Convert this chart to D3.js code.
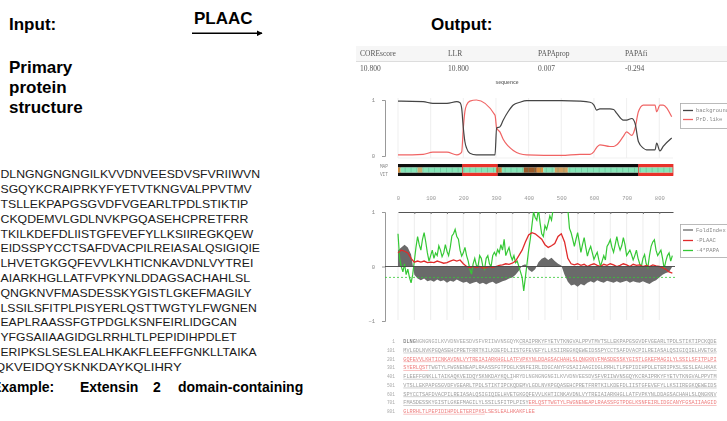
<!DOCTYPE html>
<html>
<head>
<meta charset="utf-8">
<script src="https://cdn.jsdelivr.net/npm/d3@7"></script>
<style>
  body { margin: 0; background: #fff; }
  svg { display: block; }
</style>
</head>
<body>
<script>
var width = 727,
    height = 421;

// ---- left side: input sequence (visible part of the page)
var seqLines = [
  "DLNGNGNGNGILKVVDNVEESDVSFVRIIWVN",
  "SGQYKCRAIPRKYFYETVTKNGVALPPVTMV",
  "TSLLEKPAPGSGVDFVGEARLTPDLSTIKTIP",
  "CKQDEMVLGDLNVKPGQASEHCPRETFRR",
  "TKILKDEFDLIISTGFEVEFYLLKSIIREGKQEW",
  "EIDSSPYCCTSAFDVACPILREIASALQSIGIQIE",
  "LHVETGKGQFEVVLKHTICNKAVDNLVYTREI",
  "AIARKHGLLATFVPKYNLDDAGSACHAHLSL",
  "QNGKNVFMASDESSKYGISTLGKEFMAGILY",
  "LSSILSFITPLPISYERLQSTTWGTYLFWGNEN",
  "EAPLRAASSFGTPDGLKSNFEIRLIDGCAN",
  "YFGSAIIAAGIDGLRRHLTLPEPIDIHPDLET",
  "ERIPKSLSESLEALHKAKFLEEFFGNKLLTAIKA",
  "QKVEIDQYSKNKDAYKQLIHRY"
];
// where each printed line ends on the page (px)
var seqLineEnd = [260, 251.7, 248.3, 248.3, 253.3, 260, 253.3, 250, 251.7, 256.7, 236.7, 236.7, 256.7, 181.7];
var exampleWords = ["Example:", "Extensin", "2", "domain-containing"];

// ---- PLAAC output: summary table
var headers = ["COREscore", "LLR", "PAPAprop", "PAPAfi"];
var headerVals = ["10.800", "10.800", "0.007", "-0.294"];

// ---- HMM state probabilities (top chart)
var hmmPos = [0, 10, 77, 107, 150, 180, 190, 195, 200, 205, 210, 220, 240, 297, 302, 312, 322, 337, 353, 373, 394,
              500, 557, 588, 600, 608, 618, 649, 660, 670, 690, 700, 716, 726, 736, 751, 761, 787, 792, 802, 812, 838];
var bgProb = [0.98, 0.98, 0.97, 0.94, 0.94, 0.97, 0.95, 0.85, 0.5, 0.25, 0.14, 0.05, 0.02, 0.02, 0.5, 0.52, 0.64, 0.79, 0.91, 0.96, 0.99,
              0.99, 0.98, 0.96, 0.91, 0.82, 0.84, 0.84, 0.83, 0.76, 0.64, 0.64, 0.67, 0.58, 0.26, 0.14, 0.11, 0.11, 0.23, 0.09, 0.17, 0.32];
var prdProb = [0.02, 0.02, 0.03, 0.07, 0.07, 0.02, 0.04, 0.07, 0.5, 0.8, 0.91, 0.98, 1.0, 0.73, 0.5, 0.43, 0.3, 0.18, 0.1, 0.04, 0.02,
               0.01, 0.03, 0.03, 0.08, 0.15, 0.2, 0.17, 0.17, 0.2, 0.35, 0.43, 0.37, 0.5, 0.79, 0.91, 0.91, 0.91, 0.79, 0.91, 0.91, 0.7];

// MAP / Viterbi parse: [start, end, state]
var parseSegs = [[0, 198, "bg"], [198, 304, "prd"], [304, 737, "bg"], [737, 842, "prd"]];
// residue colour strip: [start, end, colour]
var stripSegs = [[0, 8, "#d88a3a"], [8, 60, "#86e6b8"], [60, 75, "#c8b070"], [75, 300, "#86e6b8"],
                 [300, 318, "#c9803a"], [318, 385, "#86e6b8"], [385, 425, "#9a5a2a"], [425, 445, "#d9903e"],
                 [445, 480, "#86e6b8"], [480, 520, "#d0a060"], [520, 842, "#86e6b8"]];

// ---- bottom chart: FoldIndex, -PLAAC, -4*PAPA
var step10 = d3.range(0, 841, 10);
var foldIdx = [0.3, 0.35, 0.4, 0.35, 0.22, -0.15, -0.22, -0.25, -0.22, -0.27,
               -0.25, -0.28, -0.24, -0.27, -0.25, -0.3, -0.26, -0.28, -0.24, -0.27,
               -0.3, -0.28, -0.32, -0.3, -0.28, -0.32, -0.3, -0.33, -0.3, -0.28,
               -0.32, -0.3, -0.27, -0.25, -0.22, -0.2, -0.15, -0.08, 0.02, 0.04,
               -0.06, -0.1, -0.05, 0.08, 0.14, 0.17, 0.12, 0.16, 0.1, 0.05,
               0.02, -0.15, -0.28, -0.35, -0.33, -0.37, -0.32, -0.35, -0.3, -0.27,
               -0.3, -0.25, -0.28, -0.3, -0.26, -0.28, -0.3, -0.27, -0.3, -0.28,
               -0.26, -0.3, -0.27, -0.29, -0.3, -0.27, -0.3, -0.32, -0.28, -0.25,
               -0.2, -0.15, -0.12, -0.1, 0];
var plaac = [0.25, 0.3, 0.28, 0.25, 0.15, 0.08, 0.1, 0.08, 0.1, 0.07,
             0.08, 0.07, 0.1, 0.08, 0.06, 0.07, 0.1, 0.12, 0.1, 0.12,
             0.05, 0.0, -0.02, 0.0, -0.02, 0.0, -0.03, -0.02, 0.0, -0.02,
             0.0, 0.02, 0.03, 0.05, 0.04, 0.06, 0.1, 0.2, 0.3, 0.45,
             0.58, 0.62, 0.6, 0.55, 0.5, 0.4, 0.35, 0.38, 0.42, 0.55,
             0.6, 0.45, 0.15, 0.05, 0.03, 0.05, 0.02, 0.04, 0.0, 0.03,
             0.05, 0.02, 0.0, 0.04, 0.02, 0.05, 0.03, 0.0, 0.02, 0.05,
             0.03, 0.0, 0.04, 0.02, 0.03, 0.0, 0.02, 0.0, 0.03, 0.01,
             0.0, -0.02, -0.05, -0.1, -0.12];
var step5 = d3.range(0, 841, 5);
var papa = [0.6, 0.15, 0.0, -0.1, 0.05, -0.15, -0.05, -0.2, -0.3, -0.15,
            0.1, 0.35, 0.55, 0.4, 0.3, 0.5, 0.62, 0.45, 0.25, 0.1,
            0.2, 0.3, 0.15, 0.25, 0.2, 0.38, 0.3, 0.18, 0.25, 0.4,
            0.28, 0.2, 0.35, 0.56, 0.6, 0.68, 0.55, 0.5, 0.3, 0.19,
            0.25, 0.35, 0.2, 0.1, -0.05, -0.14, 0.05, 0.15, 0.02, 0.0,
            0.2, 0.15, 0.0, -0.05, 0.15, 0.2, 0.05, 0.0, 0.2, 0.26,
            0.2, 0.31, 0.25, 0.4, 0.3, 0.5, 0.2, 0.28, 0.35, 0.2,
            0.12, 0.2, 0.07, 0.1, 0.0, -0.1, -0.2, -0.45, -0.2, 0.05,
            0.3, 0.5, 0.75, 1.0, 0.9, 0.85, 1.05, 0.8, 0.6, 0.55,
            0.75, 0.68, 0.8, 0.93, 0.85, 1.05, 1.2, 1.3, 1.4, 1.3,
            1.5, 1.4, 1.3, 1.2, 1.05, 0.7, 0.62, 0.5, 0.37, 0.5,
            0.62, 0.45, 0.26, 0.4, 0.53, 0.35, 0.19, 0.3, 0.37, 0.25,
            0.13, 0.2, 0.26, 0.12, 0.0, 0.1, 0.2, 0.12, 0.37, 0.42,
            0.49, 0.35, 0.26, 0.4, 0.55, 0.4, 0.3, 0.38, 0.53, 0.4,
            0.2, 0.25, 0.3, 0.22, 0.12, 0.2, 0.3, 0.15, 0.05, 0.0,
            0.15, 0.22, 0.05, -0.02, 0.2, 0.37, 0.45, 0.49, 0.3, 0.2,
            0.25, 0.3, 0.15, -0.04, 0.1, 0.2, 0.25, 0.1, 0.2];

// sequence listing styles: [first, last, colour, underlined]
var seqStyle = [[1, 4, "#666", false], [5, 37, "#aaa", false], [38, 200, "#a0a0a0", true],
                [201, 308, "#ee8080", true], [309, 435, "#a0a0a0", true], [436, 460, "#a8a8a8", false],
                [461, 740, "#a0a0a0", true], [741, 826, "#ee8080", true], [827, 842, "#ee8080", false]];
var seqRowLabels = ["1", "101", "201", "301", "401", "501", "601", "701", "801"];
var protLen = 842;

var svg = d3.select("body").append("svg")
    .attr("width", width)
    .attr("height", height);

var defs = svg.append("defs");
defs.append("filter").attr("id", "soft")
    .append("feGaussianBlur").attr("stdDeviation", 0.3);
defs.append("clipPath").attr("id", "botclip")
  .append("rect").attr("x", 385).attr("y", 212).attr("width", 292).attr("height", 110);
defs.append("marker").attr("id", "arrow")
    .attr("viewBox", "0 0 10 10").attr("refX", 9).attr("refY", 5)
    .attr("markerWidth", 4).attr("markerHeight", 4).attr("orient", "auto")
  .append("path").attr("d", "M0,0L10,5L0,10z").attr("fill", "#000");

var sans = "Liberation Sans, Arial, sans-serif";
var mono = "Liberation Mono, DejaVu Sans Mono, monospace";

// ---------- left side
svg.append("text").attr("x", 9).attr("y", 30).text("Input:")
    .style("font", "bold 17px " + sans);
svg.append("text").attr("x", 194).attr("y", 24).text("PLAAC")
    .style("font", "bold 17px " + sans);
svg.append("line").attr("x1", 192).attr("x2", 262).attr("y1", 33.3).attr("y2", 33.3)
    .attr("stroke", "#000").attr("stroke-width", 1.5).attr("marker-end", "url(#arrow)");
svg.append("text").attr("x", 431).attr("y", 30).text("Output:")
    .style("font", "bold 17px " + sans);

["Primary", "protein", "structure"].forEach(function(t, i) {
  svg.append("text").attr("x", 9).attr("y", 72.7 + i * 20.3).text(t)
      .style("font", "bold 17px " + sans);
});

svg.append("g").selectAll("text").data(seqLines).enter().append("text")
    .attr("x", function(d, i) { return i === seqLines.length - 1 ? -4.9 : 0.5; })
    .attr("y", function(d, i) { return 178.3 + i * 14.8; })
    .attr("textLength", function(d, i) { return seqLineEnd[i] - (i === seqLines.length - 1 ? -4.9 : 0.5); })
    .attr("lengthAdjust", "spacingAndGlyphs")
    .text(function(d) { return d; })
    .style("font", "11.5px " + sans)
    .attr("fill", "#1a1a1a");

var exX = [-8, 80, 153, 178];
svg.append("g").selectAll("text").data(exampleWords).enter().append("text")
    .attr("x", function(d, i) { return exX[i]; })
    .attr("y", 392)
    .text(function(d) { return d; })
    .style("font", "bold 14px " + sans);

// ---------- output panel
var panel = svg.append("g").attr("filter", "url(#soft)");

var hx = [360, 448, 538, 625];
panel.append("rect").attr("x", 356).attr("y", 46).attr("width", 371).attr("height", 15).attr("fill", "#f6f6f6");
panel.append("line").attr("x1", 356).attr("x2", 727).attr("y1", 61.5).attr("y2", 61.5).attr("stroke", "#ddd");
panel.selectAll(".hdr").data(headers).enter().append("text")
    .attr("x", function(d, i) { return hx[i]; }).attr("y", 55.5)
    .text(function(d) { return d; })
    .style("font", "7.5px Liberation Serif, serif").attr("fill", "#555");
panel.selectAll(".hval").data(headerVals).enter().append("text")
    .attr("x", function(d, i) { return hx[i]; }).attr("y", 71)
    .text(function(d) { return d; })
    .style("font", "7.5px Liberation Serif, serif").attr("fill", "#555");
panel.append("text").attr("x", 507).attr("y", 84).attr("text-anchor", "middle")
    .text("sequence").style("font", "bold 5px " + sans).attr("fill", "#777");

var x = d3.scaleLinear().domain([0, protLen]).range([398, 673]);
var yTop = d3.scaleLinear().domain([0, 1]).range([156, 100]);
var yBot = d3.scaleLinear().domain([-1, 1]).range([321, 212]);

// top chart grid
panel.append("g").selectAll("line").data(d3.range(0, 801, 100)).enter().append("line")
    .attr("x1", x).attr("x2", x).attr("y1", 98).attr("y2", 158)
    .attr("stroke", "#ebebeb").attr("stroke-width", 0.8);
panel.append("line").attr("x1", 398).attr("x2", 673).attr("y1", 158).attr("y2", 158)
    .attr("stroke", "#eee").attr("stroke-width", 0.8);

var yAxTop = panel.append("g").attr("transform", "translate(385,0)")
    .call(d3.axisLeft(yTop).tickValues([0, 1]).tickSize(3).tickPadding(7).tickFormat(d3.format("d")));
yAxTop.selectAll("path,line").attr("stroke", "#999");
yAxTop.selectAll("text").style("font", "5.5px " + mono).attr("fill", "#888");

var hmmData = hmmPos.map(function(p, i) { return {p: p, bg: bgProb[i], prd: prdProb[i]}; });
panel.append("path").datum(hmmData)
    .attr("d", d3.line().curve(d3.curveMonotoneX).x(function(d) { return x(d.p); }).y(function(d) { return yTop(d.prd); }))
    .attr("fill", "none").attr("stroke", "#f06464").attr("stroke-width", 1.2);
panel.append("path").datum(hmmData)
    .attr("d", d3.line().curve(d3.curveMonotoneX).x(function(d) { return x(d.p); }).y(function(d) { return yTop(d.bg); }))
    .attr("fill", "none").attr("stroke", "#444").attr("stroke-width", 1.2);

// legend (top)
panel.append("rect").attr("x", 680.5).attr("y", 103.5).attr("width", 60).attr("height", 25)
    .attr("fill", "#fff").attr("stroke", "#aaa").attr("stroke-width", 0.8);
[["background", "#444", 110.5], ["PrD.like", "#f06464", 119.5]].forEach(function(e) {
  panel.append("line").attr("x1", 683).attr("x2", 693).attr("y1", e[2]).attr("y2", e[2])
      .attr("stroke", e[1]).attr("stroke-width", 1.3);
  panel.append("text").attr("x", 696).attr("y", e[2] + 1.8).text(e[0])
      .style("font", "5.5px " + mono).attr("fill", "#888");
});

// parse rows + residue strip
var stateCol = {bg: "#111", prd: "#e8302c"};
panel.append("text").attr("x", 388).attr("y", 167.5).attr("text-anchor", "end").text("MAP")
    .style("font", "4.5px " + mono).attr("fill", "#888");
panel.append("text").attr("x", 388).attr("y", 175.5).attr("text-anchor", "end").text("VIT")
    .style("font", "4.5px " + mono).attr("fill", "#888");
[164, 172.5].forEach(function(y0) {
  panel.append("g").selectAll("rect").data(parseSegs).enter().append("rect")
      .attr("x", function(d) { return x(d[0]); })
      .attr("width", function(d) { return x(d[1]) - x(d[0]); })
      .attr("y", y0).attr("height", 3.5)
      .attr("fill", function(d) { return stateCol[d[2]]; });
});
panel.append("g").selectAll("rect").data(stripSegs).enter().append("rect")
    .attr("x", function(d) { return x(d[0]); })
    .attr("width", function(d) { return x(d[1]) - x(d[0]); })
    .attr("y", 167.5).attr("height", 5)
    .attr("fill", function(d) { return d[2]; });
panel.append("g").selectAll("line").data(d3.range(4, protLen, 18)).enter().append("line")
    .attr("x1", x).attr("x2", x).attr("y1", 167.5).attr("y2", 172.5)
    .attr("stroke", "#4f9a7c").attr("stroke-width", 0.6).attr("opacity", 0.6);
parseSegs.filter(function(d) { return d[2] === "prd"; }).forEach(function(d) {
  panel.append("rect").attr("x", x(d[0])).attr("width", x(d[1]) - x(d[0]))
      .attr("y", 164.5).attr("height", 11).attr("fill", "none")
      .attr("stroke", "#e8302c").attr("stroke-width", 0.8);
});

// bottom chart: position axis on top
var posLab = panel.append("g").attr("transform", "translate(0,212)")
    .call(d3.axisTop(x).tickValues(d3.range(0, 801, 100)).tickSize(0).tickPadding(12));
posLab.select(".domain").remove();
posLab.selectAll("text").style("font", "5.5px " + mono).attr("fill", "#999");

panel.append("g").selectAll("line").data(d3.range(0, 801, 50)).enter().append("line")
    .attr("x1", x).attr("x2", x).attr("y1", 213).attr("y2", 320)
    .attr("stroke", "#e9e9e9").attr("stroke-width", 0.8);

var posAx = panel.append("g").attr("transform", "translate(0,212)")
    .call(d3.axisBottom(x).tickValues(d3.range(50, 801, 50)).tickSize(2).tickSizeOuter(0).tickFormat(""));
posAx.select(".domain").attr("stroke", "#555");
posAx.selectAll("line").attr("stroke", "#777");

var yAxBot = panel.append("g").attr("transform", "translate(385,0)")
    .call(d3.axisLeft(yBot).tickValues([-1, 0, 1]).tickSize(3).tickPadding(7).tickFormat(d3.format("d")));
yAxBot.selectAll("path,line").attr("stroke", "#999");
yAxBot.selectAll("text").style("font", "5.5px " + mono).attr("fill", "#888");

var plot = panel.append("g").attr("clip-path", "url(#botclip)");

var foldData = step10.map(function(p, i) { return {p: p, v: foldIdx[i]}; });
plot.append("path").datum(foldData)
    .attr("d", d3.area().x(function(d) { return x(d.p); }).y0(yBot(0)).y1(function(d) { return yBot(d.v); }))
    .attr("fill", "#6a6a6a");

var papaData = step5.map(function(p, i) { return {p: p, v: papa[i]}; });
plot.append("path").datum(papaData)
    .attr("d", d3.line().x(function(d) { return x(d.p); }).y(function(d) { return yBot(d.v); }))
    .attr("fill", "none").attr("stroke", "#35c835").attr("stroke-width", 1.2);

var plaacData = step10.map(function(p, i) { return {p: p, v: plaac[i]}; });
plot.append("path").datum(plaacData)
    .attr("d", d3.line().x(function(d) { return x(d.p); }).y(function(d) { return yBot(d.v); }))
    .attr("fill", "none").attr("stroke", "#e02a2a").attr("stroke-width", 1.3);

panel.append("line").attr("x1", 385).attr("x2", 675).attr("y1", yBot(0)).attr("y2", yBot(0))
    .attr("stroke", "#444").attr("stroke-width", 0.9);
panel.append("line").attr("x1", 385).attr("x2", 675).attr("y1", yBot(-0.2)).attr("y2", yBot(-0.2))
    .attr("stroke", "#35c835").attr("stroke-width", 0.8).attr("stroke-dasharray", "2,2");

// legend (bottom)
panel.append("rect").attr("x", 680.5).attr("y", 224.5).attr("width", 60).attr("height", 33)
    .attr("fill", "#fff").attr("stroke", "#aaa").attr("stroke-width", 0.8);
[["FoldIndex", "#6a6a6a", 230], ["-PLAAC", "#e02a2a", 240.5], ["-4*PAPA", "#35c835", 250.5]].forEach(function(e) {
  panel.append("line").attr("x1", 683).attr("x2", 693).attr("y1", e[2]).attr("y2", e[2])
      .attr("stroke", e[1]).attr("stroke-width", 1.3);
  panel.append("text").attr("x", 696).attr("y", e[2] + 1.8).text(e[0])
      .style("font", "5.5px " + mono).attr("fill", "#888");
});

// sequence listing
var fullSeq = seqLines.join("");
while (fullSeq.length < protLen) fullSeq += seqLines.join("");
fullSeq = fullSeq.slice(0, protLen);
var cw = 3.133, seqX0 = 403.3;
var listing = panel.append("g");
seqRowLabels.forEach(function(lab, r) {
  var yb = 343.2 + r * 8.75;
  listing.append("text").attr("x", 395).attr("y", yb).attr("text-anchor", "end").text(lab)
      .style("font", "4.5px " + mono).attr("fill", "#aaa");
  seqStyle.forEach(function(s) {
    var a = Math.max(s[0], r * 100 + 1), b = Math.min(s[1], r * 100 + 100, protLen);
    if (a > b) return;
    var n = b - a + 1, xs = seqX0 + (a - 1 - r * 100) * cw;
    listing.append("text").attr("x", xs).attr("y", yb)
        .attr("textLength", n * cw).attr("lengthAdjust", "spacingAndGlyphs")
        .text(fullSeq.slice(a - 1, b))
        .style("font", "5px " + mono).attr("fill", s[2]);
    if (s[3]) {
      listing.append("line").attr("x1", xs).attr("x2", xs + n * cw).attr("y1", yb + 1).attr("y2", yb + 1)
          .attr("stroke", s[2]).attr("stroke-width", 0.5);
    }
  });
});
</script>
</body>
</html>
